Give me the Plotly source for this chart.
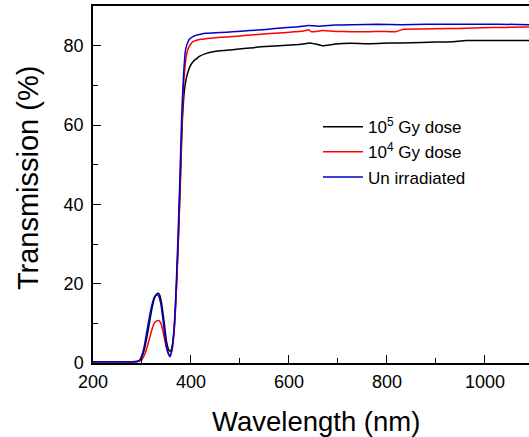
import plotly.graph_objects as go

# Wavelength grids (nm) and transmission (%) for each series
wl_black = [200, 250, 290, 295, 300, 305, 310, 315, 320, 325, 330, 333, 336, 340, 345, 350, 355, 358,
            362, 366, 370, 374, 378, 382, 386, 390, 395, 400, 405, 410, 417, 430, 451, 485, 520, 543,
            580, 611, 628, 642, 655, 668, 695, 724, 760, 791, 830, 870, 900, 932, 962, 1000, 1040, 1090]
t_black = [0.3, 0.3, 0.4, 0.6, 1.5, 3.5, 6.5, 10.0, 13.5, 16.2, 17.4, 17.6, 17.2, 15.0, 10.5, 5.5, 3.2, 3.0,
           4.5, 9.0, 18.0, 30.0, 44.0, 60.0, 68.0, 71.5, 73.8, 75.2, 76.1, 76.6, 77.3, 78.0, 78.6, 79.0, 79.4, 79.7,
           80.0, 80.2, 80.4, 80.7, 80.4, 80.0, 80.4, 80.6, 80.5, 80.6, 80.7, 80.8, 80.9, 81.0, 81.3, 81.3, 81.3, 81.3]

wl_red = [200, 250, 290, 295, 300, 305, 310, 315, 320, 325, 330, 334, 338, 342, 346, 350, 355, 358,
          362, 366, 370, 374, 378, 382, 386, 390, 395, 400, 404, 410, 420, 440, 460, 485, 515, 543,
          580, 611, 630, 640, 646, 668, 700, 723, 760, 790, 818, 832, 870, 927, 960, 995, 1040, 1090]
t_red = [0.3, 0.3, 0.4, 0.5, 0.9, 2.0, 3.8, 6.0, 8.3, 10.0, 10.6, 10.7, 10.2, 8.5, 6.0, 3.8, 2.3, 2.1,
         3.8, 8.5, 18.0, 31.0, 46.0, 62.0, 72.0, 77.0, 79.5, 80.5, 81.0, 81.3, 81.6, 81.9, 82.1, 82.3, 82.6, 82.9,
         83.2, 83.5, 83.7, 84.0, 83.5, 83.8, 83.6, 83.5, 83.5, 83.6, 83.5, 84.1, 84.2, 84.3, 84.4, 84.5, 84.6, 84.7]

wl_blue = [200, 250, 290, 295, 300, 305, 310, 315, 320, 325, 330, 334, 338, 342, 346, 350, 354, 357,
           361, 365, 369, 373, 377, 381, 385, 389, 394, 398, 404, 410, 420, 431, 460, 485, 520, 553,
           590, 620, 640, 660, 694, 730, 780, 830, 880, 930, 980, 1030, 1090]
t_blue = [0.3, 0.3, 0.4, 0.7, 2.0, 4.5, 8.0, 11.5, 14.5, 16.6, 17.2, 16.9, 15.2, 11.8, 7.8, 4.2, 2.2, 1.6,
          3.2, 8.0, 17.0, 30.0, 45.0, 62.0, 73.0, 79.0, 81.0, 81.8, 82.3, 82.6, 82.9, 83.1, 83.3, 83.5, 83.8, 84.1,
          84.5, 84.8, 85.1, 84.9, 85.2, 85.3, 85.4, 85.3, 85.4, 85.4, 85.4, 85.4, 85.3]

names = ["10<sup>5</sup> Gy dose", "10<sup>4</sup> Gy dose", "Un irradiated"]
colors = ["#000000", "#ff0000", "#0000cc"]
x_title = "Wavelength (nm)"
y_title = "Transmission (%)"

fig = go.Figure()
for wl, t, nm, c in [(wl_black, t_black, names[0], colors[0]),
                     (wl_red, t_red, names[1], colors[1]),
                     (wl_blue, t_blue, names[2], colors[2])]:
    fig.add_trace(go.Scatter(x=wl, y=t, mode="lines", name=nm,
                             line=dict(color=c, width=1.5, shape="spline", smoothing=0.5)))

font_family = "Liberation Sans, Arial, sans-serif"
fig.update_layout(
    width=529, height=437,
    margin=dict(l=93, r=0, t=6, b=74),
    paper_bgcolor="white", plot_bgcolor="white",
    font=dict(family=font_family, color="black"),
    showlegend=True,
    legend=dict(x=0.516, y=0.711, xanchor="left", yanchor="top",
                font=dict(size=17, family=font_family),
                bgcolor="rgba(0,0,0,0)", tracegroupgap=0, itemwidth=40),
    xaxis=dict(range=[200, 1090], tickvals=[200, 400, 600, 800, 1000],
               ticks="inside", ticklen=8, tickwidth=1.2, tickcolor="black",
               minor=dict(tickvals=[300, 500, 700, 900], ticks="inside", ticklen=5, tickwidth=1.2, tickcolor="black"),
               showline=True, linecolor="black", linewidth=1.5, mirror=True,
               showgrid=False, zeroline=False, automargin=False,
               tickfont=dict(size=18), ticklabelstandoff=2),
    yaxis=dict(range=[0, 90], tickvals=[0, 20, 40, 60, 80],
               ticks="inside", ticklen=8, tickwidth=1.2, tickcolor="black",
               minor=dict(tickvals=[10, 30, 50, 70], ticks="inside", ticklen=5, tickwidth=1.2, tickcolor="black"),
               showline=True, linecolor="black", linewidth=1.5, mirror=False,
               showgrid=False, zeroline=False, automargin=False,
               tickfont=dict(size=18), ticklabelstandoff=4),
    annotations=[
        dict(text=x_title, xref="paper", yref="paper", x=0.511, y=-0.1625,
             xanchor="center", yanchor="middle", showarrow=False, font=dict(size=27.5)),
        dict(text=y_title, xref="paper", yref="paper", x=-0.150, y=0.5196, textangle=-90,
             xanchor="center", yanchor="middle", showarrow=False, font=dict(size=29)),
    ],
)

fig.write_html("out.html", config={"displayModeBar": False},
               post_script="document.body.style.margin='0';document.body.style.overflow='hidden';")
